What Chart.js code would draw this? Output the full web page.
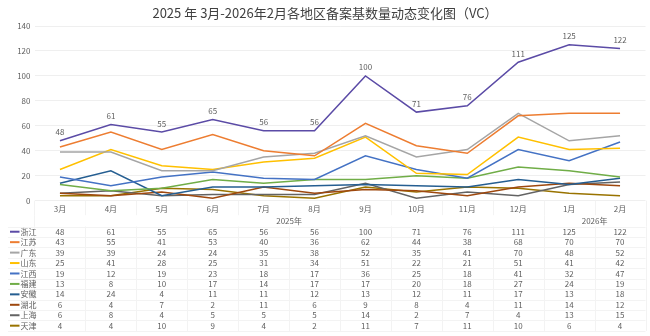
<!DOCTYPE html>
<html>
<head>
<meta charset="utf-8">
<script src="https://cdn.jsdelivr.net/npm/chart.js@4.4.0/dist/chart.umd.min.js"></script>
<style>
html,body{margin:0;padding:0;background:#fff;}
#wrap{width:650px;height:336px;position:relative;}
</style>
</head>
<body>
<div id="wrap"><canvas id="c" width="650" height="336"></canvas></div>
<script>
const titleText = '2025 年 3月-2026年2月各地区备案基数量动态变化图（VC）';
const months = ['3月','4月','5月','6月','7月','8月','9月','10月','11月','12月','1月','2月'];
const yearLabels = ['2025年','2026年'];
const yearSpans = [10, 2];
const yTicks = [0, 20, 40, 60, 80, 100, 120, 140];
const regions = ['浙江','江苏','广东','山东','江西','福建','安徽','湖北','上海','天津'];
const zhejiang = [48,61,55,65,56,56,100,71,76,111,125,122];
const jiangsu  = [43,55,41,53,40,36,62,44,38,68,70,70];
const guangdong= [39,39,24,24,35,38,52,35,41,70,48,52];
const shandong = [25,41,28,25,31,34,51,22,21,51,41,42];
const jiangxi  = [19,12,19,23,18,17,36,25,18,41,32,47];
const fujian   = [13,8,10,17,14,17,17,20,18,27,24,19];
const anhui    = [14,24,4,11,11,12,13,12,11,17,13,18];
const hubei    = [6,4,7,2,11,6,9,8,4,11,14,12];
const shanghai = [6,8,4,5,5,5,14,2,7,4,13,15];
const tianjin  = [4,4,10,9,4,2,11,7,11,10,6,4];
const seriesValues = [zhejiang,jiangsu,guangdong,shandong,jiangxi,fujian,anhui,hubei,shanghai,tianjin];
const colors = ['#5B4BA6','#ED7D31','#A5A5A5','#FFC000','#4472C4','#70AD47','#255E91','#9E480E','#636363','#997300'];

const FONT = '"Noto Sans CJK SC", "Noto Sans", sans-serif';
const TXT = '#606060';
const LINEC = '#f3f3f3';

const tablePlugin = {
  id: 'tablePlugin',
  afterDraw(chart) {
    const ctx = chart.ctx;
    const x = chart.scales.x;
    const area = chart.chartArea;
    const step = x.getPixelForValue(1) - x.getPixelForValue(0);
    const half = step / 2;
    ctx.save();
    ctx.fillStyle = '#404040';
    ctx.font = '13px ' + FONT;
    ctx.textAlign = 'center';
    ctx.textBaseline = 'middle';
    ctx.fillText(titleText, 325, 13);

    const meta = chart.getDatasetMeta(0);
    ctx.font = '8px ' + FONT;
    ctx.fillStyle = TXT;
    meta.data.forEach((pt, i) => {
      ctx.fillText(String(zhejiang[i]), pt.x, pt.y - 8.5);
    });

    const catTop = area.bottom;
    const catBot = area.bottom + 14.5;
    const yearY = area.bottom + 20;
    const rowH = 10.44;
    const rowTop = area.bottom + 25.8;
    const tableLeft = 8;
    const right = x.getPixelForValue(months.length - 1) + half;

    ctx.strokeStyle = LINEC;
    ctx.lineWidth = 1;
    for (let i = 0; i <= months.length; i++) {
      const bx = Math.round(x.getPixelForValue(0) - half + i * step) + 0.5;
      ctx.beginPath();
      ctx.moveTo(bx, catTop); ctx.lineTo(bx, catBot);
      ctx.moveTo(bx, rowTop); ctx.lineTo(bx, rowTop + rowH * regions.length);
      ctx.stroke();
    }
    let acc = 0;
    for (let g = 0; g <= yearSpans.length; g++) {
      const bx = Math.round(x.getPixelForValue(0) - half + acc * step) + 0.5;
      ctx.beginPath(); ctx.moveTo(bx, catBot); ctx.lineTo(bx, rowTop); ctx.stroke();
      if (g < yearSpans.length) acc += yearSpans[g];
    }
    for (let r = 0; r <= regions.length; r++) {
      const by = Math.round(rowTop + r * rowH) + 0.5;
      ctx.beginPath(); ctx.moveTo(tableLeft, by); ctx.lineTo(right, by); ctx.stroke();
    }

    ctx.fillStyle = TXT;
    ctx.font = '8px ' + FONT;
    acc = 0;
    yearLabels.forEach((lab, g) => {
      const a = x.getPixelForValue(acc);
      const b = x.getPixelForValue(acc + yearSpans[g] - 1);
      ctx.fillText(lab, (a + b) / 2, yearY);
      acc += yearSpans[g];
    });

    regions.forEach((name, r) => {
      const cy = rowTop + r * rowH + rowH / 2;
      ctx.strokeStyle = colors[r];
      ctx.lineWidth = 2;
      ctx.beginPath(); ctx.moveTo(10, cy); ctx.lineTo(19.5, cy); ctx.stroke();
      ctx.fillStyle = TXT;
      ctx.textAlign = 'left';
      ctx.fillText(name, 20.5, cy);
      ctx.textAlign = 'center';
      seriesValues[r].forEach((v, i) => {
        ctx.fillText(String(v), x.getPixelForValue(i), cy);
      });
    });
    ctx.restore();
  }
};

new Chart(document.getElementById('c'), {
  type: 'line',
  data: {
    labels: months,
    datasets: regions.map((name, i) => ({
      label: name,
      data: seriesValues[i],
      borderColor: colors[i],
      backgroundColor: colors[i],
      borderWidth: 1.5,
      pointRadius: 0,
      tension: 0,
      fill: false
    }))
  },
  options: {
    responsive: false,
    animation: false,
    devicePixelRatio: 1,
    layout: { padding: { top: 26, right: 4.5, left: 0, bottom: 0 } },
    plugins: { legend: { display: false }, tooltip: { enabled: false }, title: { display: false } },
    scales: {
      x: {
        offset: true,
        grid: { display: false, drawTicks: false },
        border: { display: false },
        ticks: { color: TXT, font: { size: 8, family: FONT }, padding: 3, maxRotation: 0, autoSkip: false },
        afterFit(s) { s.height = 135.3; }
      },
      y: {
        min: 0, max: 140,
        afterBuildTicks(s) { s.ticks = yTicks.map(v => ({ value: v })); },
        grid: { color: '#efefef', drawTicks: false },
        border: { display: false },
        ticks: { color: TXT, font: { size: 8, family: FONT }, padding: 4 },
        afterFit(s) { s.width = 34.5; }
      }
    }
  },
  plugins: [tablePlugin]
});
</script>
</body>
</html>
